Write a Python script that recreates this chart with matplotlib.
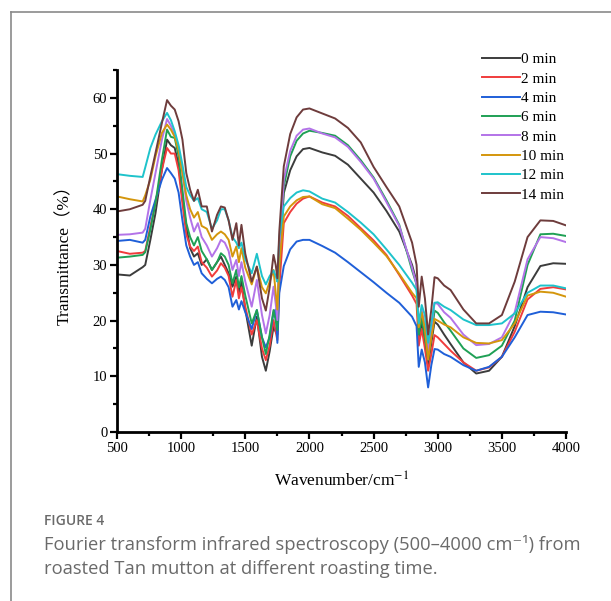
import matplotlib
matplotlib.use("Agg")
import matplotlib.pyplot as plt
from matplotlib.lines import Line2D

plt.rcParams["mathtext.fontset"] = "stix"

wavenumber = [500, 600, 700, 720, 760, 800, 850, 890, 920, 950,
              980, 1010, 1040, 1070, 1100, 1130, 1160, 1200, 1240, 1280,
              1310, 1340, 1370, 1400, 1430, 1450, 1470, 1500, 1550, 1590,
              1630, 1660, 1690, 1720, 1737, 1750, 1765, 1800, 1850, 1900,
              1950, 2000, 2100, 2200, 2300, 2400, 2500, 2600, 2700, 2800,
              2835, 2852, 2875, 2900, 2925, 2950, 2975, 3000, 3050, 3100,
              3200, 3300, 3400, 3500, 3600, 3700, 3800, 3900, 4000]

t0 = [28.3, 28.1, 29.6, 30.0, 34.5, 39.3, 47.1, 52.5, 51.5, 51.0,
      48.0, 42.0, 37.0, 33.0, 31.5, 32.1, 30.0, 31.0, 29.1, 30.5,
      31.5, 30.0, 28.5, 26.1, 27.9, 25.0, 27.0, 22.0, 15.5, 20.7,
      13.5, 11.0, 14.5, 18.9, 18.0, 17.5, 30.0, 42.9, 47.0, 49.5,
      50.8, 51.0, 50.2, 49.6, 48.0, 45.5, 43.0, 39.7, 36.0, 30.0,
      27.0, 17.0, 19.5, 16.0, 12.0, 16.0, 19.8, 19.3, 17.5, 15.8,
      12.5, 10.5, 11.0, 13.5, 19.0, 26.0, 29.8, 30.3, 30.2]

t2 = [32.5, 32.0, 32.2, 32.5, 36.9, 41.1, 47.1, 51.0, 50.0, 50.0,
      47.0, 41.0, 35.5, 33.3, 32.5, 33.3, 30.5, 29.5, 27.9, 29.0,
      30.3, 29.5, 28.0, 24.3, 27.3, 24.0, 26.0, 22.5, 17.5, 20.1,
      15.0, 12.9, 15.5, 20.1, 18.0, 16.5, 26.0, 37.5, 39.5, 41.0,
      41.9, 42.3, 41.2, 40.5, 38.8, 36.6, 34.4, 31.8, 28.2, 24.5,
      23.0, 15.5, 18.5, 15.0, 11.0, 14.0, 17.4, 17.0, 15.8, 14.6,
      12.5, 11.0, 11.6, 13.5, 18.0, 23.8, 25.7, 26.0, 25.6]

t4 = [34.3, 34.5, 34.0, 34.5, 38.7, 41.7, 45.3, 47.4, 46.5, 45.5,
      43.0, 38.0, 33.5, 31.5, 30.0, 30.5, 28.5, 27.5, 26.7, 27.5,
      27.9, 27.3, 26.0, 22.5, 23.7, 22.0, 23.5, 21.5, 18.5, 21.9,
      17.0, 15.2, 17.0, 21.5, 22.0, 16.0, 25.0, 29.8, 32.8, 34.2,
      34.5, 34.5, 33.4, 32.2, 30.5, 28.7, 26.9, 25.0, 23.2, 20.7,
      19.0, 11.7, 14.8, 12.5, 8.0, 12.0, 14.9, 14.8, 14.0, 13.5,
      12.0, 11.0, 11.7, 13.5, 17.0, 21.0, 21.6, 21.5, 21.1]

t6 = [31.3, 31.5, 31.8, 32.3, 36.3, 41.1, 48.9, 54.3, 53.0, 52.8,
      49.5, 43.5, 37.5, 35.0, 33.5, 35.0, 32.5, 31.0, 29.1, 30.5,
      32.1, 31.5, 30.0, 26.7, 29.1, 26.0, 28.0, 24.5, 19.5, 21.9,
      17.0, 14.0, 17.5, 21.9, 20.0, 18.3, 30.0, 44.1, 49.5, 52.3,
      53.6, 54.1, 53.7, 53.2, 51.5, 48.8, 45.7, 41.6, 37.2, 29.0,
      26.5, 17.5, 20.5, 17.0, 13.0, 17.0, 21.8, 21.4, 19.7, 18.2,
      15.0, 13.3, 13.8, 15.5, 20.0, 30.0, 35.5, 35.6, 35.2]

t8 = [35.4, 35.5, 35.8, 36.5, 41.7, 46.5, 52.5, 56.2, 55.0, 53.5,
      51.0, 46.5, 41.5, 38.5, 36.0, 37.5, 35.0, 33.5, 31.5, 33.0,
      34.5, 34.0, 32.5, 29.1, 30.9, 28.0, 30.5, 27.0, 22.5, 27.3,
      21.0, 17.7, 21.0, 26.1, 23.0, 20.1, 32.0, 45.3, 50.5, 53.2,
      54.3, 54.5, 53.6, 52.9, 51.2, 48.5, 45.5, 41.3, 37.0, 29.5,
      26.5, 19.5, 22.0, 19.0, 14.5, 18.5, 23.2, 23.0, 21.5, 20.5,
      17.5, 15.6, 15.8, 17.0, 21.5, 31.0, 35.0, 34.8, 34.1]

t10 = [42.3, 41.8, 41.4, 42.5, 45.3, 49.5, 53.7, 55.2, 54.3, 53.0,
       50.5, 46.5, 42.5, 40.0, 38.5, 39.5, 37.0, 36.5, 34.5, 35.5,
       36.0, 35.5, 34.5, 31.5, 33.3, 30.5, 33.0, 29.5, 26.5, 29.7,
       26.0, 24.9, 27.0, 29.1, 25.0, 22.0, 30.0, 38.7, 40.5, 41.6,
       42.2, 42.3, 40.9, 40.2, 38.3, 36.3, 34.0, 31.6, 28.4, 25.0,
       24.0, 18.8, 21.5, 18.5, 13.0, 17.0, 20.3, 20.0, 19.3, 18.8,
       17.0, 16.0, 15.9, 16.5, 19.5, 24.5, 25.2, 25.0, 24.3]

t12 = [46.3, 46.0, 45.8, 47.5, 51.0, 53.4, 55.8, 57.3, 56.0, 54.0,
       51.5, 48.0, 44.0, 42.5, 41.5, 42.0, 40.0, 39.5, 36.5, 38.0,
       40.0, 40.0, 38.0, 35.0, 34.0, 33.0, 34.0, 31.0, 28.5, 32.0,
       28.0, 26.5, 28.0, 29.0, 28.0, 27.0, 35.0, 40.5, 42.0, 43.0,
       43.4, 43.2, 41.9, 41.2, 39.5, 37.6, 35.5, 32.8, 30.0, 26.8,
       25.5, 19.5, 22.8, 21.0, 16.0, 19.5, 23.2, 23.3, 22.5, 21.9,
       20.2, 19.2, 19.2, 19.5, 21.3, 25.0, 26.3, 26.3, 25.8]

t14 = [39.6, 40.0, 40.8, 41.5, 45.9, 50.1, 55.5, 59.6, 58.6, 57.9,
       55.8, 52.5, 46.5, 43.5, 41.5, 43.5, 40.5, 40.5, 36.0, 39.0,
       40.5, 40.3, 38.0, 34.5, 37.5, 33.5, 37.2, 32.0, 27.0, 29.7,
       24.0, 21.8, 26.0, 31.8, 30.0, 27.6, 36.0, 47.7, 53.5, 56.5,
       57.9, 58.1, 57.2, 56.3, 54.6, 52.0, 47.6, 44.0, 40.5, 34.0,
       30.0, 22.5, 27.9, 24.0, 17.5, 22.0, 27.8, 27.6, 26.3, 25.5,
       22.0, 19.5, 19.5, 21.0, 27.0, 35.0, 38.0, 37.9, 37.1]

labels = ["0 min", "2 min", "4 min", "6 min", "8 min", "10 min", "12 min", "14 min"]
series = [t0, t2, t4, t6, t8, t10, t12, t14]
colors = ["#3c3c3c", "#f03c3c", "#1f5fd8", "#1fa055", "#b373e8",
          "#d4960c", "#1ec3cb", "#6e3c3c"]

fig = plt.figure(figsize=(6.11, 6.01), dpi=100)
ax = fig.add_axes([0.1915, 0.2812, 0.7349, 0.6023])

for vals, lab, col in zip(series, labels, colors):
    ax.plot(wavenumber, vals, color=col, linewidth=1.4, label=lab)

ax.set_xlim(500, 4000)
ax.set_ylim(0, 65)
ax.set_xticks(range(500, 4001, 500))
ax.set_xticks(range(750, 4000, 500), minor=True)
ax.set_yticks(range(0, 61, 10))
ax.set_yticks(range(5, 66, 10), minor=True)
for s in ["top", "right"]:
    ax.spines[s].set_visible(False)
for s in ["left", "bottom"]:
    ax.spines[s].set_linewidth(2)
ax.tick_params(which="major", direction="out", length=5, width=1.6,
               labelsize=10.5, pad=2)
ax.tick_params(which="minor", direction="out", length=3, width=1.6)
for lbl in ax.get_xticklabels() + ax.get_yticklabels():
    lbl.set_family("Liberation Serif")

ax.set_xlabel("Wavenumber/cm$^{-1}$", family="Liberation Serif", fontsize=12.5, labelpad=12)
ax.set_ylabel("Transmittance（%）", family=["Liberation Serif", "Noto Sans CJK SC"],
              fontsize=12.5, labelpad=14)

fig.legend(loc="upper left", bbox_to_anchor=(0.776, 0.925), frameon=False,
           prop={"family": "Liberation Serif", "size": 11},
           handlelength=2.5, handletextpad=0.1, labelspacing=0.37, borderpad=0)

# outer frame of the figure panel
fig.add_artist(Line2D([11 / 611, 11 / 611], [0, 1 - 12 / 601], color="#8a8a8a", linewidth=1.2))
fig.add_artist(Line2D([11 / 611, 1], [1 - 12 / 601, 1 - 12 / 601], color="#8a8a8a", linewidth=1.2))

fig.text(44 / 611, 1 - 521 / 601, "FIGURE 4", family="Open Sans", fontsize=10,
         fontweight="semibold", color="#6a6a6a", va="center")
fig.text(44 / 611, 1 - 545 / 601,
         "Fourier transform infrared spectroscopy (500–4000 cm⁻¹) from",
         family=["Open Sans", "DejaVu Sans"], fontsize=13.2, color="#6a6a6a", va="center")
fig.text(44 / 611, 1 - 569 / 601, "roasted Tan mutton at different roasting time.",
         family="Open Sans", fontsize=13.2, color="#6a6a6a", va="center")

fig.savefig("out.png", dpi=100)
